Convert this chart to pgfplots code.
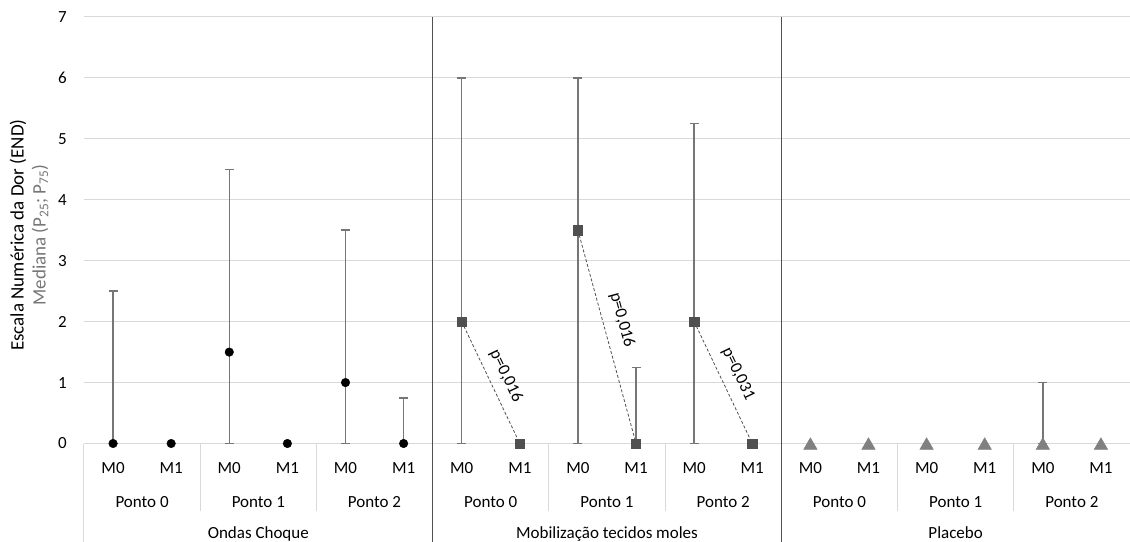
\documentclass[border=0pt]{standalone}
\usepackage{fontspec}
\setmainfont{Carlito}
\usepackage{pgfplots}
\pgfplotsset{compat=1.18}
\definecolor{gridc}{RGB}{217,217,217}
\definecolor{errc}{RGB}{118,118,118}
\definecolor{sqc}{RGB}{80,80,80}
\definecolor{tric}{RGB}{128,128,128}
\definecolor{sepc}{RGB}{80,80,80}
\definecolor{lblgray}{RGB}{118,118,118}

\begin{document}
\fontsize{17}{22}\selectfont
\begin{tikzpicture}[font=\fontsize{17}{22}\selectfont]
\useasboundingbox (-84pt,-97.5pt) rectangle (1046pt,443.5pt);
\begin{axis}[
  at={(0,0)}, anchor=south west,
  scale only axis, width=1046pt, height=426.5pt,
  xmin=-0.5, xmax=17.5, ymin=0, ymax=7,
  axis line style={draw=none},
  font=\fontsize{17}{22}\selectfont,
  ticklabel style={font=\fontsize{17}{22}\selectfont},
  ytick={0,1,...,7},
  ymajorgrids, grid style={gridc, line width=1pt},
  major tick length=0pt,
  xtick={0,1,...,17},
  xticklabels={M0,M1,M0,M1,M0,M1,M0,M1,M0,M1,M0,M1,M0,M1,M0,M1,M0,M1},
  xticklabel style={anchor=base, yshift=-30pt},
  yticklabel style={xshift=-11.5pt},
  /pgf/number format/assume math mode=true,
  clip=false,
]
% category frame
\draw[gridc, line width=1pt] (axis cs:-0.5,0) -- (axis cs:-0.5,-1.62);
\pgfplotsinvokeforeach{1.5,3.5,7.5,9.5,13.5,15.5}{
  \draw[gridc, line width=1pt] (axis cs:#1,0) -- (axis cs:#1,-1.10);
}
\draw[sepc, line width=1pt] (axis cs:5.5,7) -- (axis cs:5.5,-1.62);
\draw[sepc, line width=1pt] (axis cs:11.5,7) -- (axis cs:11.5,-1.62);

\node[anchor=base] at (axis cs:0.5,-1.052) {Ponto 0};
\node[anchor=base] at (axis cs:2.5,-1.052) {Ponto 1};
\node[anchor=base] at (axis cs:4.5,-1.052) {Ponto 2};
\node[anchor=base] at (axis cs:6.5,-1.052) {Ponto 0};
\node[anchor=base] at (axis cs:8.5,-1.052) {Ponto 1};
\node[anchor=base] at (axis cs:10.5,-1.052) {Ponto 2};
\node[anchor=base] at (axis cs:12.5,-1.052) {Ponto 0};
\node[anchor=base] at (axis cs:14.5,-1.052) {Ponto 1};
\node[anchor=base] at (axis cs:16.5,-1.052) {Ponto 2};
\node[anchor=base] at (axis cs:2.5,-1.56) {Ondas Choque};
\node[anchor=base] at (axis cs:8.5,-1.56) {Mobilização tecidos moles};
\node[anchor=base] at (axis cs:14.5,-1.56) {Placebo};

\node[rotate=90, align=center, font=\fontsize{19}{22}\selectfont] at (axis cs:-1.446,3.42) {Escala Numérica da Dor (END)\\\textcolor{lblgray}{Mediana (P\textsubscript{25}; P\textsubscript{75})}};

% whiskers (P25 - P75)
\addplot[draw=none, mark=none, forget plot,
  error bars/.cd, y dir=both, y explicit,
  error bar style={errc, line width=1.5pt},
  error mark options={errc, line width=1.5pt, rotate=90, mark size=4.5pt}]
  table[x=x, y=y, y error plus=ep, y error minus=em] {
x  y   ep   em
0  0   2.5  0
2  1.5 3    1.5
4  1   2.5  1
5  0   0.75 0
6  2   4    2
8  3.5 2.5  3.5
9  0   1.25 0
10 2   3.25 2
16 0   1    0
};

% dashed connectors with p-values
\addplot[sqc, line width=0.8pt, dash pattern=on 3pt off 2pt, mark=none] coordinates {(6,2) (7,0)};
\addplot[sqc, line width=0.8pt, dash pattern=on 3pt off 2pt, mark=none] coordinates {(8,3.5) (9,0)};
\addplot[sqc, line width=0.8pt, dash pattern=on 3pt off 2pt, mark=none] coordinates {(10,2) (11,0)};
\node[rotate=-64.5] at (axis cs:6.762,1.108) {p=0,016};
\node[rotate=-74.8] at (axis cs:8.758,2.027) {p=0,016};
\node[rotate=-64.5] at (axis cs:10.755,1.141) {p=0,031};

% medians
\addplot[only marks, mark=*, mark size=4.3pt, black] table {
x y
0 0
1 0
2 1.5
3 0
4 1
5 0
};
\addplot[only marks, mark=square*, mark size=4.6pt, sqc] table {
x y
6 2
7 0
8 3.5
9 0
10 2
11 0
};
\addplot[only marks, mark=triangle*, mark size=7.8pt, tric, mark options={yshift=-2pt}] table {
x y
12 0
13 0
14 0
15 0
16 0
17 0
};
\end{axis}
\end{tikzpicture}
\end{document}
